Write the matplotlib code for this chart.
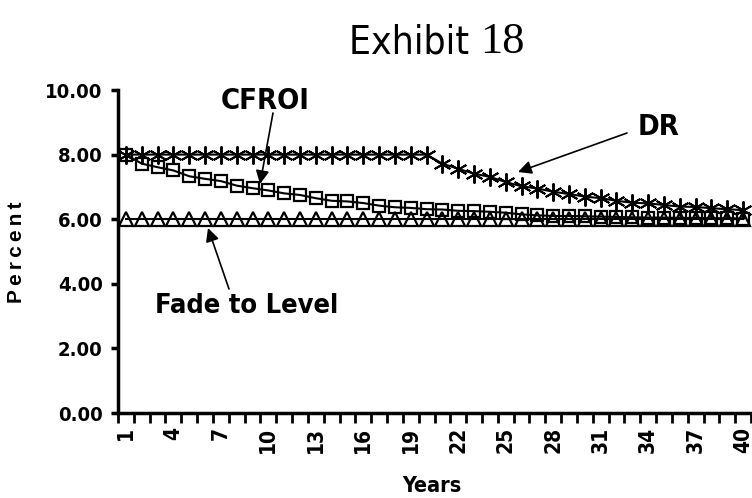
import matplotlib
matplotlib.use('Agg')
import matplotlib.pyplot as plt
from matplotlib import font_manager

years = list(range(1, 41))

dr = [8.00, 8.00, 8.00, 8.00, 8.00, 8.00, 8.00, 8.00, 8.00, 8.00,
      8.00, 8.00, 8.00, 8.00, 8.00, 8.00, 8.00, 8.00, 8.00, 8.00,
      7.72, 7.56, 7.41, 7.31, 7.15, 7.02, 6.95, 6.85, 6.78, 6.70,
      6.65, 6.57, 6.51, 6.49, 6.44, 6.39, 6.38, 6.34, 6.31, 6.28]

cfroi = [8.00, 7.72, 7.61, 7.51, 7.33, 7.25, 7.18, 7.04, 6.96, 6.89,
         6.80, 6.75, 6.65, 6.57, 6.55, 6.50, 6.42, 6.37, 6.35, 6.31,
         6.30, 6.26, 6.25, 6.23, 6.20, 6.15, 6.12, 6.10, 6.10, 6.09,
         6.08, 6.07, 6.06, 6.05, 6.05, 6.04, 6.04, 6.03, 6.03, 6.02]

fade = [6.00, 6.00, 6.00, 6.00, 6.00, 6.00, 6.00, 6.00, 6.00, 6.00,
        6.00, 6.00, 6.00, 6.00, 6.00, 6.00, 6.00, 6.00, 6.00, 6.00,
        6.00, 6.00, 6.00, 6.00, 6.00, 6.00, 6.00, 6.00, 6.00, 6.00,
        6.00, 6.00, 6.00, 6.00, 6.00, 6.00, 6.00, 6.00, 6.00, 6.00]

yticks = [0, 2, 4, 6, 8, 10]
xlabels_at = list(range(1, 41, 3))

# condensed face if installed, otherwise arial-like
has_cond = any(f.name == 'DejaVu Sans' and f.stretch == 'condensed'
               for f in font_manager.fontManager.ttflist)
if has_cond:
    lab = dict(fontfamily='DejaVu Sans', fontstretch='condensed')
else:
    lab = dict(fontfamily='Liberation Sans')
serif = 'Liberation Serif'

fig = plt.figure(figsize=(7.52, 4.98), dpi=100)
ax = fig.add_axes([118 / 752, 85 / 498, 633 / 752, 323 / 498])

ax.plot(years, fade, color='black', lw=1.5, marker='^', ms=10,
        mfc='none', mec='black', mew=1.6, zorder=3)
ax.plot(years, cfroi, color='black', lw=1.5, marker='s', ms=9,
        mfc='none', mec='black', mew=1.6, zorder=4)
ax.plot(years, dr, color='black', lw=1.5, marker=(6, 2, 0), ms=13,
        mec='black', mew=1.4, zorder=5)

ax.set_xlim(0.5, 40.5)
ax.set_ylim(0, 10)

for side in ['top', 'right']:
    ax.spines[side].set_visible(False)
for side in ['left', 'bottom']:
    ax.spines[side].set_linewidth(2.5)

ax.set_yticks(yticks)
ax.set_yticklabels(['%.2f' % v for v in yticks], fontweight='bold',
                   fontsize=14.5, **lab)
ax.tick_params(axis='y', length=5, width=2.5, pad=6)

ax.set_xticks(xlabels_at)
ax.set_xticklabels([str(v) for v in xlabels_at], rotation=90,
                   fontweight='bold', fontsize=15, **lab)
ax.set_xticks([v + 0.5 for v in range(0, 41)], minor=True)
ax.tick_params(axis='x', which='major', length=0, pad=10)
ax.tick_params(axis='x', which='minor', length=7, width=2)

fig.text(17 / 752, 1 - 252 / 498, '\u2009'.join('Percent'), rotation=90,
         ha='center', va='center', fontfamily='Liberation Sans',
         fontweight='bold', fontsize=15)
fig.text(432 / 752, 1 - 486 / 498, 'Years', ha='center', va='center',
         fontweight='bold', fontsize=15.5, **lab)

# title, mixed fonts like the original
fig.text(480 / 752, 1 - 42 / 498, 'Exhibit ', ha='right', va='center',
         fontsize=28, **lab)
fig.text(480 / 752, 1 - 42 / 498, '18', ha='left', va='center',
         fontfamily=serif, fontsize=32)

# labels and arrows
notes = [('CFROI', 21, (265, 101), (273, 113), (260, 184)),
         ('Fade to Level', 19.5, (247, 306), (229, 289), (208, 228)),
         ('DR', 21, (659, 127), (627, 133), (518, 172))]
for txt, size, pos, start, tip in notes:
    fig.text(pos[0] / 752, 1 - pos[1] / 498, txt, ha='center', va='center',
             fontweight='bold', fontsize=size, **lab)
    ax.annotate('', xy=(tip[0] / 752, 1 - tip[1] / 498), xycoords='figure fraction',
                xytext=(start[0] / 752, 1 - start[1] / 498), textcoords='figure fraction',
                arrowprops=dict(arrowstyle='-|>', color='black', lw=1.2,
                                mutation_scale=20, shrinkA=0, shrinkB=0))

fig.savefig('out.png', dpi=100)
